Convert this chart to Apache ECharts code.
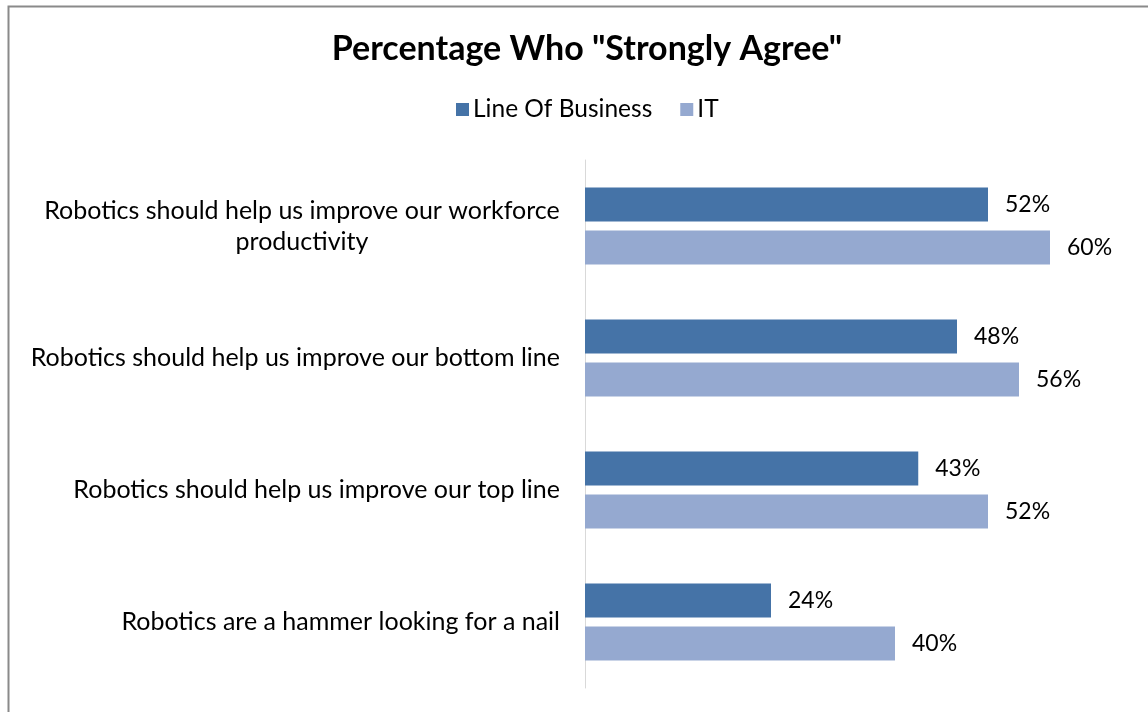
<!DOCTYPE html>
<html>
<head>
<meta charset="utf-8">
<script src="https://cdn.jsdelivr.net/npm/echarts@6/dist/echarts.min.js"></script>
<style>html,body{margin:0;padding:0;background:#fff;}#c{width:1148px;height:712px;}</style>
</head>
<body>
<div id="c"></div>
<script>
const categories = [
  'Robotics should help us improve our workforce\nproductivity',
  'Robotics should help us improve our bottom line',
  'Robotics should help us improve our top line',
  'Robotics are a hammer looking for a nail'
];
const seriesNames = ['Line Of Business', 'IT'];
const lobValues = [52, 48, 43, 24];
const itValues = [60, 56, 52, 40];
const titleText = 'Percentage Who "Strongly Agree"';

const FONT = '"Lato", "Open Sans", sans-serif';
const LABEL_SIZE = 25;
// measure widest line so multi-line labels can be centred within their block
const mctx = document.createElement('canvas').getContext('2d');
mctx.font = LABEL_SIZE + 'px Lato';
function blockWidth(v) {
  return Math.max.apply(null, v.split('\n').map(s => mctx.measureText(s).width));
}

const chart = echarts.init(document.getElementById('c'));
chart.setOption({
  animation: false,
  backgroundColor: '#fff',
  title: {
    text: titleText, left: 582, textAlign: 'center', top: 27,
    textStyle: { fontFamily: FONT, fontSize: 34, fontWeight: 'bold', color: '#000' }
  },
  legend: {
    data: seriesNames, top: 97, left: 456, itemWidth: 13, itemHeight: 13, itemGap: 28,
    icon: 'rect', padding: 0,
    textStyle: { fontFamily: FONT, fontSize: 24.5, color: '#000', padding: [0, 0, 0, -1] }
  },
  graphic: [{
    type: 'rect', shape: { x: 8.5, y: 6.5, width: 1200, height: 800 },
    style: { fill: 'none', stroke: '#8a8a8a', lineWidth: 2 }, silent: true, z: -1
  }],
  grid: { left: 585, top: 160, height: 528, right: 20.5 },
  xAxis: {
    type: 'value', min: 0, max: 70, show: false
  },
  yAxis: {
    type: 'category', data: categories, inverse: true,
    axisLine: { show: true, lineStyle: { color: '#d9d9d9', width: 1 } },
    axisTick: { show: false },
    axisLabel: {
      margin: 25, align: 'right', lineHeight: 31,
      formatter: function (v) {
        if (v.indexOf('\n') < 0) return '{a|' + v + '}';
        return v.split('\n').map(s => '{b|' + s + '}').join('\n');
      },
      rich: {
        a: { fontFamily: FONT, fontSize: LABEL_SIZE, color: '#000', lineHeight: 31 },
        b: { fontFamily: FONT, fontSize: LABEL_SIZE, color: '#000', lineHeight: 31, align: 'center',
             width: Math.ceil(blockWidth(categories[0])) }
      }
    }
  },
  series: [
    {
      name: seriesNames[0], type: 'bar', data: lobValues, barWidth: 34, barGap: '27%',
      itemStyle: { color: '#4573a7' },
      label: { show: true, position: 'right', distance: 17, formatter: '{c}%', fontFamily: FONT, fontSize: 23, color: '#000' }
    },
    {
      name: seriesNames[1], type: 'bar', data: itValues, barWidth: 34,
      itemStyle: { color: '#95a9d0' },
      label: { show: true, position: 'right', distance: 17, formatter: '{c}%', fontFamily: FONT, fontSize: 23, color: '#000' }
    }
  ]
});
</script>
</body>
</html>
